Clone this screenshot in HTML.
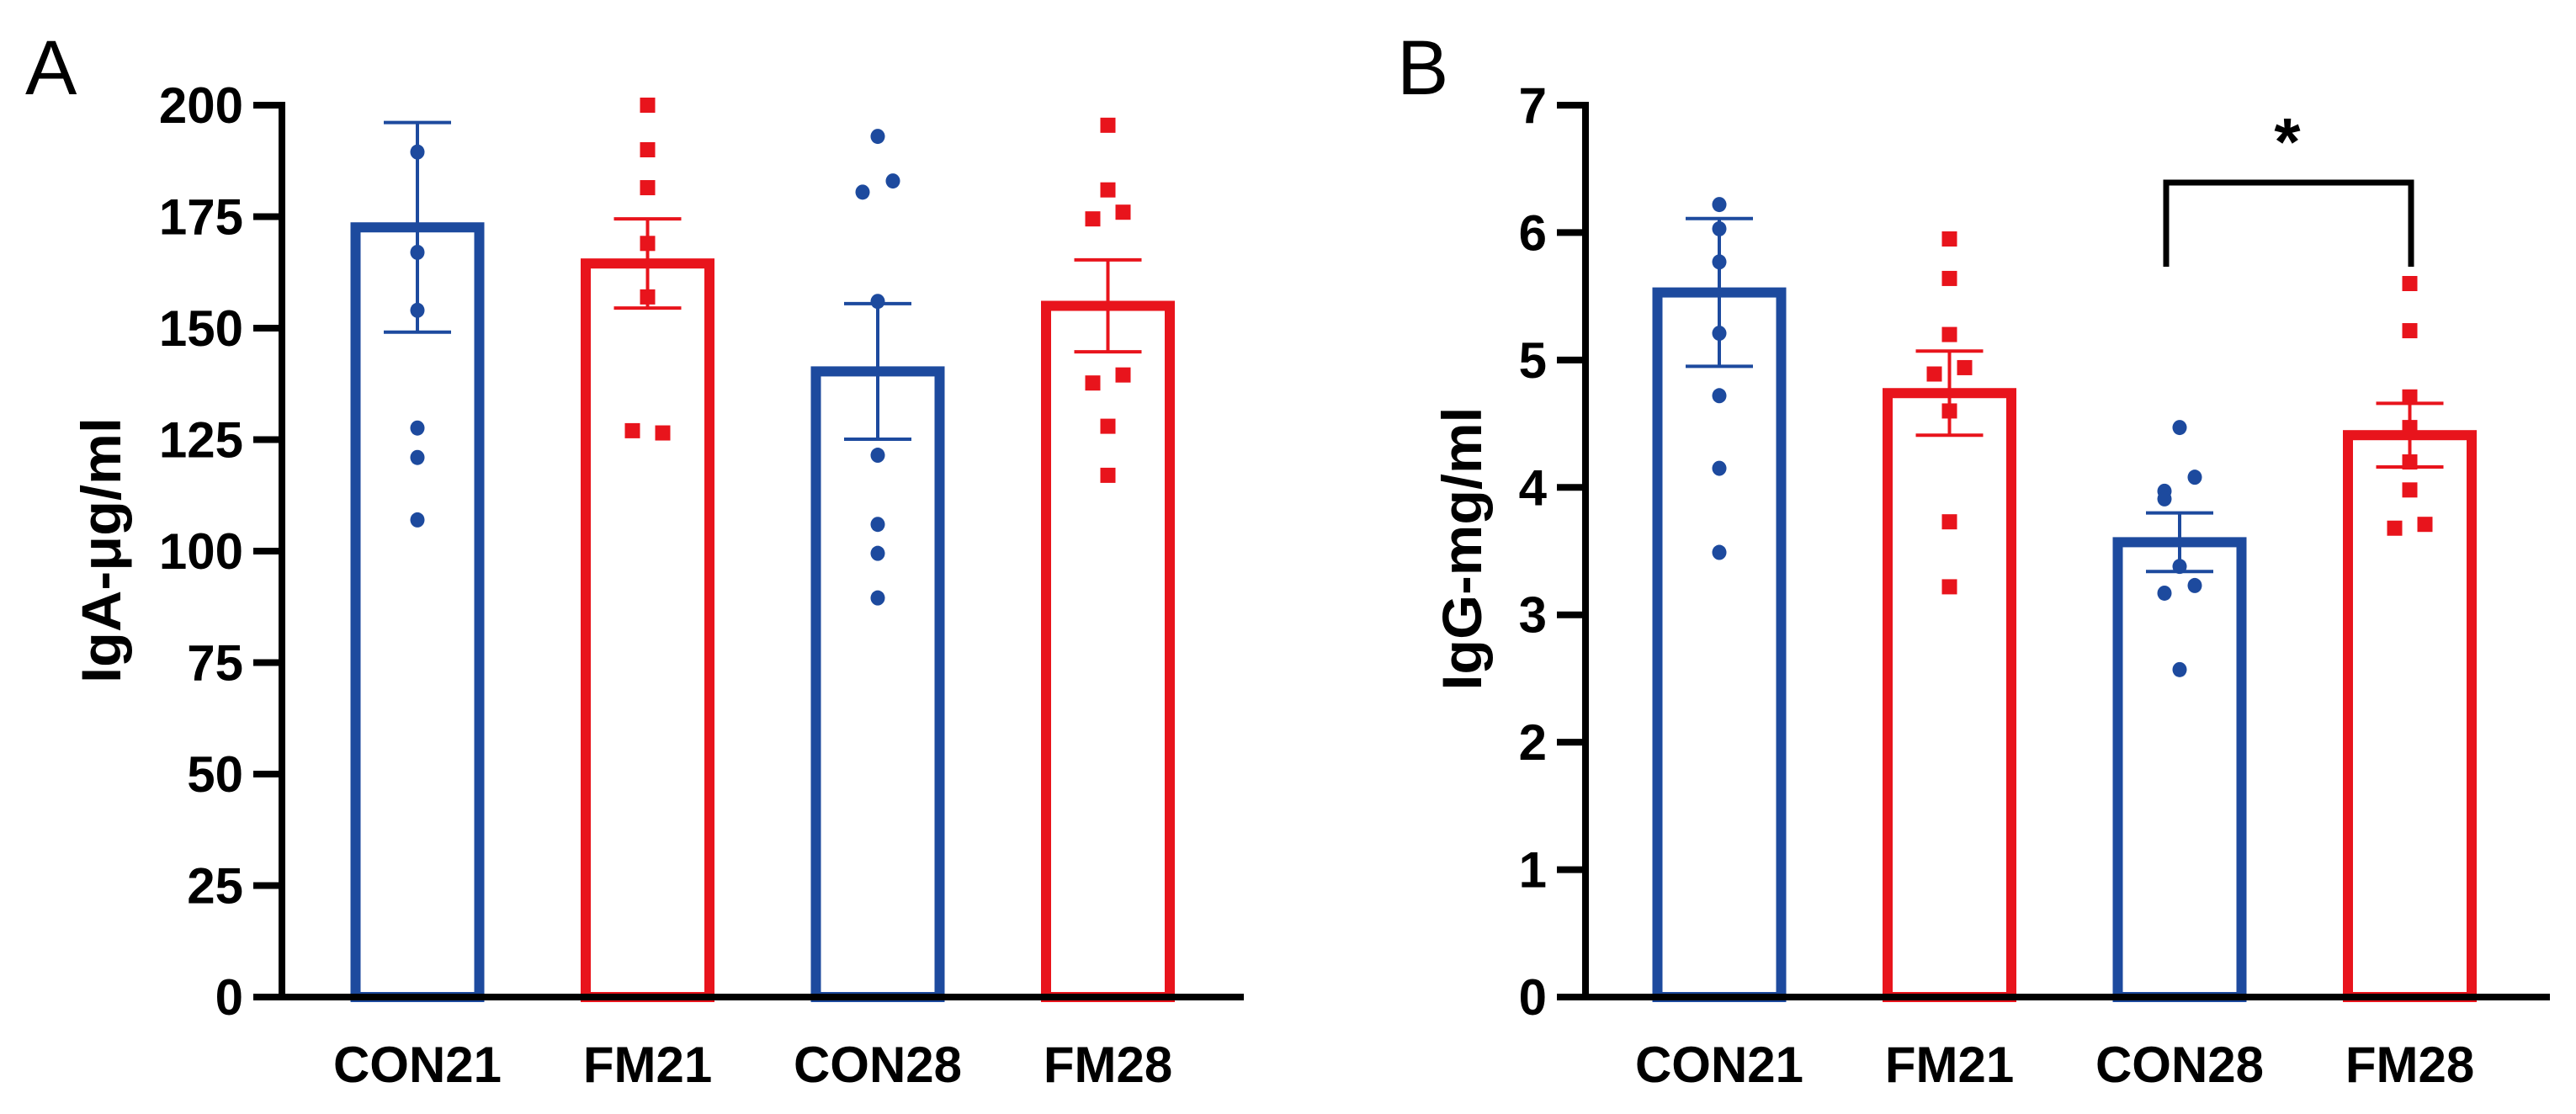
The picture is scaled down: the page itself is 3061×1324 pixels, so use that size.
<!DOCTYPE html>
<html><head><meta charset="utf-8"><style>
html,body{margin:0;padding:0;background:#fff;}
svg{display:block;}
text{font-family:"Liberation Sans",Arial,sans-serif;}
</style></head><body>
<svg id="chart" width="3061" height="1324" viewBox="0 0 3061 1324" xmlns="http://www.w3.org/2000/svg">
<g id="panelA"></g>
<g id="panelB"></g>
</svg>
<script>
const categories = ["CON21","FM21","CON28","FM28"];
const aTicks = [0,25,50,75,100,125,150,175,200];
const aMeans = [172.6,164.5,140.3,155.0];
const aSem = [23.5,10.0,15.2,10.3];
const aPoints = [
  [189.5,167,154,127.6,121,107],
  [200,190,181.5,169,157,126.5,127],
  [193,183,180.5,156,121.5,106,99.5,89.5],
  [195.5,181,176,174.5,139.5,137.7,128,117]
];
const bTicks = [0,1,2,3,4,5,6,7];
const bMeans = [5.53,4.74,3.57,4.41];
const bSem = [0.58,0.33,0.23,0.25];
const bPoints = [
  [6.22,6.03,5.77,5.21,4.72,4.15,3.49],
  [5.95,5.64,5.2,4.94,4.89,4.6,3.73,3.22],
  [4.47,4.08,3.97,3.91,3.38,3.23,3.17,2.57],
  [5.6,5.23,4.71,4.47,4.2,3.98,3.71,3.68]
];
const colors = ["#1d4a9e","#e8141c","#1d4a9e","#e8141c"];
const NS = "http://www.w3.org/2000/svg";
function mk(parent, tag, attrs){ const e=document.createElementNS(NS,tag); for(const k in attrs) e.setAttribute(k,attrs[k]); parent.appendChild(e); return e; }

function panel(g, cfg){
  const yScale = v => cfg.y0 - (v - cfg.ymin)/(cfg.ymax-cfg.ymin)*(cfg.y0-cfg.ytop);
  const xScale = i => cfg.x0 + i*cfg.step;
  const L = mk(g,'text',{x:cfg.letterX,y:112,'font-size':92});
  
  
  L.textContent = cfg.letter;
  const yt = mk(g,'text',{x:0,y:0,'font-size':66,'font-weight':'bold','text-anchor':'middle',textLength:cfg.titleLen,lengthAdjust:'spacingAndGlyphs',transform:`translate(${cfg.titleX},${cfg.titleY}) rotate(-90)`});
  
  
  yt.textContent = cfg.title;
  categories.forEach((c,i)=>{
    const cx = xScale(i), col = colors[i];
    const ym = yScale(cfg.means[i]);
    const bar = mk(g,'rect',{x:cx-73.5,y:ym,width:147,height:cfg.y0-ym,fill:'none',stroke:col,'stroke-width':12});
    
    
    const hi = yScale(cfg.means[i]+cfg.sem[i]), lo = yScale(cfg.means[i]-cfg.sem[i]);
    const eg = mk(g,'g',{stroke:col,'stroke-width':4});
    
    
    mk(eg,'line',{x1:cx,x2:cx,y1:hi,y2:lo});
    mk(eg,'line',{x1:cx-40,x2:cx+40,y1:hi,y2:hi});
    mk(eg,'line',{x1:cx-40,x2:cx+40,y1:lo,y2:lo});
    const pts = cfg.points[i];
    pts.forEach((v,j)=>{
      const py = yScale(v);
      let dx = 0;
      for(let k=0;k<pts.length;k++){ if(k!==j && Math.abs(yScale(pts[k])-py)<20){ dx = (k<j)?-18:18; break; } }
      let m;
      if(i%2===0){ m = mk(g,'ellipse',{cx:cx+dx,cy:py,rx:8.5,ry:9,fill:col}); }
      else { m = mk(g,'rect',{x:cx+dx-9,y:py-9,width:18,height:18,fill:col}); }
      
      
    });
    const xl = mk(g,'text',{x:cx,y:1286,'font-size':60,'font-weight':'bold','text-anchor':'middle'});
    
    
    xl.textContent = c;
  });
  const ax = mk(g,'g',{stroke:'#000','stroke-width':8,fill:'none'});
  
  
  mk(ax,'line',{x1:cfg.axisX,x2:cfg.axisX,y1:cfg.ytop-4,y2:cfg.y0+4});
  mk(ax,'line',{x1:cfg.axisX-4,x2:cfg.xEnd,y1:cfg.y0,y2:cfg.y0});
  cfg.ticks.forEach(t=>{
    const ty = yScale(t);
    mk(ax,'line',{x1:cfg.axisX-34,x2:cfg.axisX,y1:ty,y2:ty});
    const tl = mk(g,'text',{x:cfg.axisX-46,y:ty+21,'font-size':60,'font-weight':'bold','text-anchor':'end'});
    
    
    tl.textContent = t;
  });
}
const gA = document.getElementById('panelA');
panel(gA,{letter:'A',letterX:30,title:'IgA-\u03bcg/ml',titleX:143,titleY:654,titleLen:316,axisX:335,xEnd:1478,x0:496,step:273.5,y0:1185,ytop:125,ymin:0,ymax:200,ticks:aTicks,means:aMeans,sem:aSem,points:aPoints});
const gB = document.getElementById('panelB');
panel(gB,{letter:'B',letterX:1660,title:'IgG-mg/ml',titleX:1760,titleY:652,titleLen:337,axisX:1884,xEnd:3030,x0:2043,step:273.5,y0:1185,ytop:125,ymin:0,ymax:7,ticks:bTicks,means:bMeans,sem:bSem,points:bPoints});
const br = mk(gB,'path',{d:'M2574 317 V217 H2865 V317',fill:'none',stroke:'#000','stroke-width':7});


const st = mk(gB,'text',{x:2718,y:196,'font-size':80,'font-weight':'bold','text-anchor':'middle'});


st.textContent='*';
</script>
</body></html>
